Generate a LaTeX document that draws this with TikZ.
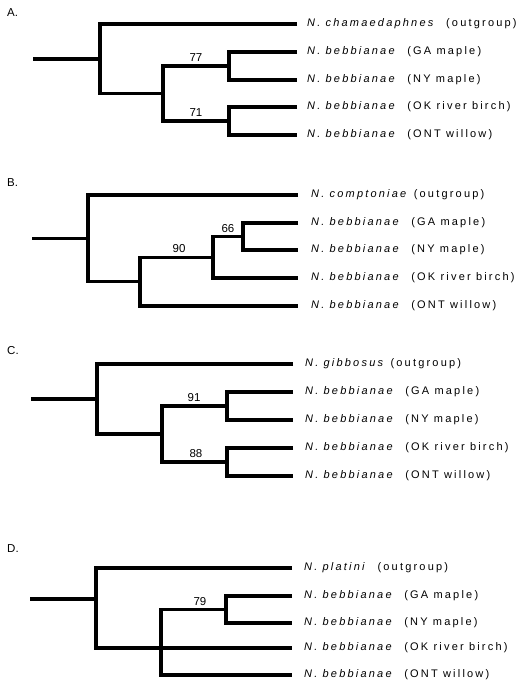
\documentclass[tikz,border=0pt]{standalone}
\usepackage{fontspec}
\setmainfont{Liberation Sans}
\newfontfamily\labfont[LetterSpace=20]{Liberation Sans}
\begin{document}
\begin{tikzpicture}[x=1pt,y=-1pt,
  branch/.style={line width=3.5pt, line join=miter, line cap=butt},
  leaflab/.style={anchor=west, inner sep=0pt, font=\labfont\fontsize{11}{13}\selectfont},
  boot/.style={anchor=south, inner sep=1pt, font=\fontsize{11.5}{13}\selectfont},
  panel/.style={anchor=west, inner sep=0pt, font=\fontsize{11.5}{13}\selectfont}]
\useasboundingbox (0,0) rectangle (517,686);
% ---------------- Panel A
\node[panel] (Alab) at (7,13) {A.};
\coordinate (AL1) at (297,24);
\coordinate (AL2) at (297,52);
\coordinate (AL3) at (297,80);
\coordinate (AL4) at (297,107);
\coordinate (AL5) at (297,135);
\coordinate (Ac2) at (229,66);
\coordinate (Ac3) at (229,121);
\coordinate (Ac1) at (163,93.5);
\coordinate (Ar) at (100,58.75);
\coordinate (As) at (33,58.75);
\draw[branch] (AL2) -| (Ac2) |- (AL3);
\draw[branch] (AL4) -| (Ac3) |- (AL5);
\draw[branch] (Ac2) -| (Ac1) |- (Ac3);
\draw[branch] (AL1) -| (Ar) |- (Ac1);
\draw[branch] (As) -- (Ar);
\node[boot] (Ab1) at (196,63) {77};
\node[boot] (Ab2) at (196,118) {71};
\node[leaflab] (At1) at (307,24) {\textit{N. chamaedaphnes}\ \ (outgroup)};
\node[leaflab] (At2) at (307,52) {\textit{N. bebbianae}\ \ (GA maple)};
\node[leaflab] (At3) at (307,80) {\textit{N. bebbianae}\ \ (NY maple)};
\node[leaflab] (At4) at (307,107) {\textit{N. bebbianae}\ \ (OK river birch)};
\node[leaflab] (At5) at (307,135) {\textit{N. bebbianae}\ \ (ONT willow)};
% ---------------- Panel B
\node[panel] (Blab) at (7,183) {B.};
\coordinate (BL1) at (298,195);
\coordinate (BL2) at (298,223);
\coordinate (BL3) at (298,250);
\coordinate (BL4) at (298,278);
\coordinate (BL5) at (298,306);
\coordinate (Bc66) at (243,236.5);
\coordinate (Bc90) at (213,257.25);
\coordinate (Bci) at (140,281.6);
\coordinate (Br) at (88,238.3);
\coordinate (Bs) at (32,238.3);
\draw[branch] (BL2) -| (Bc66) |- (BL3);
\draw[branch] (Bc66) -| (Bc90) |- (BL4);
\draw[branch] (Bc90) -| (Bci) |- (BL5);
\draw[branch] (BL1) -| (Br) |- (Bci);
\draw[branch, line width=2.4pt] (Bs) -- (Br);
\node[boot] (Bb1) at (228,233.5) {66};
\node[boot] (Bb2) at (179,254.25) {90};
\node[leaflab] (Bt1) at (311,195) {\textit{N. comptoniae} (outgroup)};
\node[leaflab] (Bt2) at (311,223) {\textit{N. bebbianae}\ \ (GA maple)};
\node[leaflab] (Bt3) at (311,250) {\textit{N. bebbianae}\ \ (NY maple)};
\node[leaflab] (Bt4) at (311,278) {\textit{N. bebbianae}\ \ (OK river birch)};
\node[leaflab] (Bt5) at (311,306) {\textit{N. bebbianae}\ \ (ONT willow)};
% ---------------- Panel C
\node[panel] (Clab) at (7,351) {C.};
\coordinate (CL1) at (293,364);
\coordinate (CL2) at (293,392);
\coordinate (CL3) at (293,420);
\coordinate (CL4) at (293,448);
\coordinate (CL5) at (293,476);
\coordinate (Cc2) at (227,406);
\coordinate (Cc3) at (227,462);
\coordinate (Cc1) at (162,434);
\coordinate (Cr) at (97,399);
\coordinate (Cs) at (31,399);
\draw[branch] (CL2) -| (Cc2) |- (CL3);
\draw[branch] (CL4) -| (Cc3) |- (CL5);
\draw[branch] (Cc2) -| (Cc1) |- (Cc3);
\draw[branch] (CL1) -| (Cr) |- (Cc1);
\draw[branch] (Cs) -- (Cr);
\node[boot] (Cb1) at (194,403) {91};
\node[boot] (Cb2) at (196,459) {88};
\node[leaflab] (Ct1) at (305,364) {\textit{N. gibbosus} (outgroup)};
\node[leaflab] (Ct2) at (305,392) {\textit{N. bebbianae}\ \ (GA maple)};
\node[leaflab] (Ct3) at (305,420) {\textit{N. bebbianae}\ \ (NY maple)};
\node[leaflab] (Ct4) at (305,448) {\textit{N. bebbianae}\ \ (OK river birch)};
\node[leaflab] (Ct5) at (305,476) {\textit{N. bebbianae}\ \ (ONT willow)};
% ---------------- Panel D
\node[panel] (Dlab) at (7,549) {D.};
\coordinate (DL1) at (292,568);
\coordinate (DL2) at (292,596);
\coordinate (DL3) at (292,623);
\coordinate (DL4) at (292,648);
\coordinate (DL5) at (292,675);
\coordinate (Dc79) at (226,609.5);
\coordinate (Dci) at (161,648);
\coordinate (Dr) at (96,599);
\coordinate (Ds) at (30,599);
\draw[branch] (DL2) -| (Dc79) |- (DL3);
\draw[branch] (Dc79) -| (Dci) |- (DL5);
\draw[branch] (DL1) -| (Dr) |- (DL4);
\draw[branch] (Ds) -- (Dr);
\node[boot] (Db1) at (200,606.5) {79};
\node[leaflab] (Dt1) at (304,568) {\textit{N. platini}\ \ (outgroup)};
\node[leaflab] (Dt2) at (304,596) {\textit{N. bebbianae}\ \ (GA maple)};
\node[leaflab] (Dt3) at (304,623) {\textit{N. bebbianae}\ \ (NY maple)};
\node[leaflab] (Dt4) at (304,648) {\textit{N. bebbianae}\ \ (OK river birch)};
\node[leaflab] (Dt5) at (304,675) {\textit{N. bebbianae}\ \ (ONT willow)};
\end{tikzpicture}
\end{document}
